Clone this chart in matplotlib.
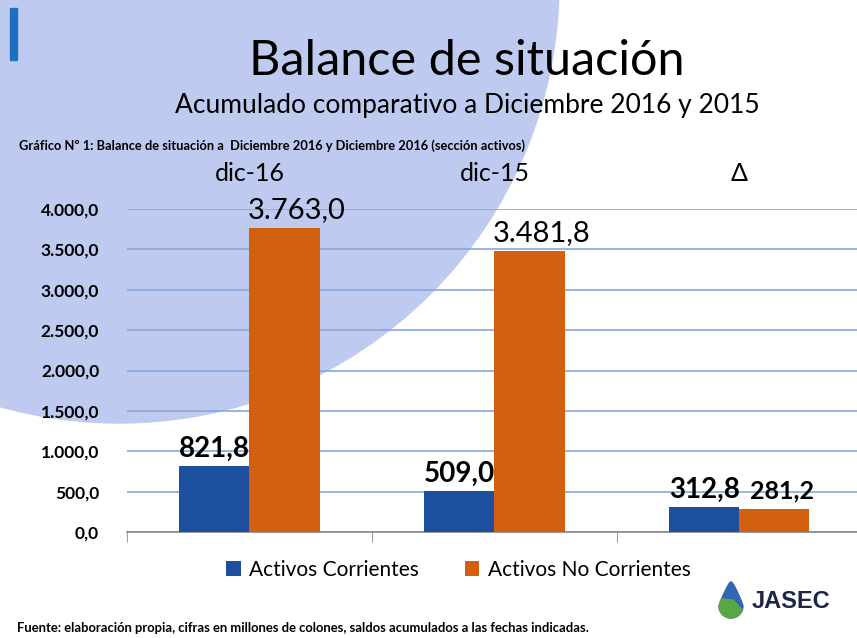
import matplotlib.pyplot as plt
import matplotlib.patches as mpatches
import numpy as np

# datos (millones de colones)
categorias = ["dic-16", "dic-15", "Δ"]
activos_corrientes = [821.8, 509.0, 312.8]
activos_no_corrientes = [3763.0, 3481.8, 281.2]
etiquetas_corr = ["821,8", "509,0", "312,8"]
etiquetas_no_corr = ["3.763,0", "3.481,8", "281,2"]
yticks = [0, 500, 1000, 1500, 2000, 2500, 3000, 3500, 4000]
ytick_labels = ["0,0", "500,0", "1.000,0", "1.500,0", "2.000,0", "2.500,0",
                "3.000,0", "3.500,0", "4.000,0"]

azul = "#1c4f9e"
naranja = "#d2600e"
W, H = 857, 638

plt.rcParams["font.family"] = ["Lato", "DejaVu Sans"]

fig = plt.figure(figsize=(W / 100, H / 100), dpi=100)

# fondo de la diapositiva (en pixeles)
bg = fig.add_axes([0, 0, 1, 1])
bg.set_xlim(0, W)
bg.set_ylim(H, 0)
bg.axis("off")
bg.add_patch(mpatches.Circle((119, -17), 440, color="#bfcaf0", zorder=0))
bg.add_patch(mpatches.Rectangle((10, 8), 7, 52, color="#1f6fc0", zorder=1))

# logo JASEC (gota)
t = np.linspace(0, 2 * np.pi, 100)
gy = np.where(np.cos(t) > 0, 606 - 24 * np.cos(t), 606 - 12 * np.cos(t))
gx = np.where(np.cos(t) > 0, 731 + 12 * np.sin(t) * (1 - 0.6 * np.cos(t)),
              731 + 12 * np.sin(t))
bg.fill(gx, gy, color="#2f67b5", zorder=2)
bg.fill(np.r_[gx[30:80], 733], np.r_[gy[30:80], 600], color="#5aa544", zorder=3)
bg.text(752, 602, "JASEC", fontsize=17, fontweight="bold", color="#1c2748",
        family=["Liberation Sans", "DejaVu Sans"], va="center", ha="left")

# titulos
fig.text(0.545, 0.905, "Balance de situación", fontsize=35, ha="center", va="center")
fig.text(0.545, 0.835, "Acumulado comparativo a Diciembre 2016 y 2015",
         fontsize=19, ha="center", va="center")
fig.text(0.022, 0.772,
         "Gráfico Nº 1: Balance de situación a  Diciembre 2016 y Diciembre 2016 (sección activos)",
         fontsize=9.3, fontweight="bold", ha="left", va="center")
fig.text(0.02, 0.015,
         "Fuente: elaboración propia, cifras en millones de colones, saldos acumulados a las fechas indicadas.",
         fontsize=9.4, fontweight="bold", ha="left", va="center")

# grafico de barras
ax = fig.add_axes([127 / W, 1 - 532 / H, 1 - 127 / W, (532 - 209) / H])
ax.patch.set_alpha(0)
x = np.arange(len(categorias))
ancho = 0.286
ax.bar(x - ancho / 2, activos_corrientes, ancho, color=azul, zorder=3,
       label="Activos Corrientes")
ax.bar(x + ancho / 2, activos_no_corrientes, ancho, color=naranja, zorder=3,
       label="Activos No Corrientes")

ax.set_xlim(-0.5, 2.48)
ax.set_ylim(0, 4000)
ax.set_yticks(yticks)
ax.set_yticklabels(ytick_labels, fontsize=12.5, fontweight="bold")
ax.tick_params(axis="y", length=0, pad=20)
ax.grid(axis="y", color="#86a8dd", linewidth=1.2, zorder=1)

ax.set_xticks([])
ax.set_xticks([-0.5, 0.5, 1.5], minor=True)
ax.tick_params(axis="x", which="minor", length=7, color="#888888", direction="out")
for s in ["top", "right", "left"]:
    ax.spines[s].set_visible(False)
ax.spines["bottom"].set_color("#888888")
ax.spines["bottom"].set_linewidth(1.2)

# categorias arriba
for xi, c in zip(x, categorias):
    ax.text(xi, 4440, c, fontsize=18, ha="center", va="center", clip_on=False)

# etiquetas de valores
for xi, v, lab in zip(x, activos_corrientes, etiquetas_corr):
    ax.text(xi - ancho / 2, v + 50, lab, fontsize=20, fontweight="bold",
            ha="center", va="bottom", clip_on=False)
for xi, v, lab in zip(x, activos_no_corrientes, etiquetas_no_corr):
    grande = v > 1000
    ax.text(xi + ancho / 2 + (0.05 if grande else 0.03), v + (60 if grande else 80), lab,
            fontsize=21 if grande else 18, fontweight="normal" if grande else "bold",
            ha="center", va="bottom", clip_on=False)

fig.legend(loc="center", bbox_to_anchor=(0.535, 0.107), ncol=2, frameon=False,
           fontsize=15, handlelength=0.7, handleheight=0.7, handletextpad=0.4,
           columnspacing=2.2)

fig.savefig("out.png", dpi=100)
